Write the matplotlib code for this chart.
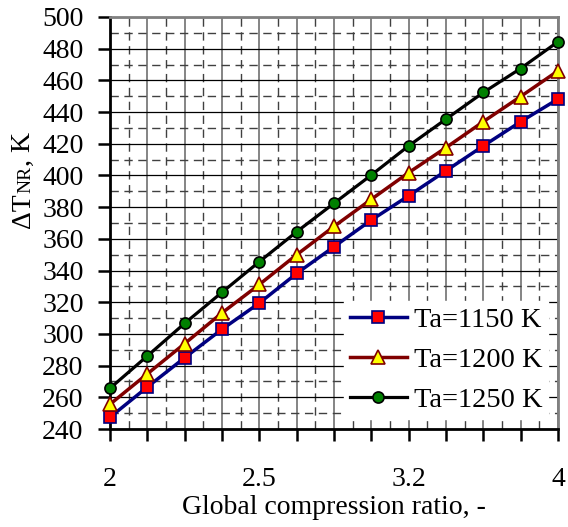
import numpy as np
import matplotlib
matplotlib.use('Agg')
import matplotlib.pyplot as plt
from matplotlib.ticker import FixedLocator, FixedFormatter, MultipleLocator

plt.rcParams['font.family'] = ['Liberation Serif', 'DejaVu Serif']

# global compression ratio (geometric steps from 2 to 4)
ratio = [2.0, 2.119, 2.245, 2.378, 2.520, 2.670, 2.828, 2.997, 3.175, 3.364, 3.564, 3.775, 4.0]
ratio_labels = ['2', '', '', '', '2.5', '', '', '', '3.2', '', '', '', '4']

dT_1150 = [247.4, 266.5, 285.0, 302.9, 319.5, 338.2, 355.0, 371.9, 387.2, 403.0, 418.7, 433.9, 448.2]
dT_1200 = [255.6, 274.8, 293.9, 313.2, 331.2, 350.0, 367.8, 385.0, 401.8, 417.6, 434.0, 449.8, 466.0]
dT_1250 = [265.7, 286.1, 306.7, 326.2, 345.6, 364.5, 382.4, 400.3, 418.7, 435.6, 452.4, 467.5, 484.4]

fig = plt.figure(figsize=(5.68, 5.27), dpi=100)
ax = fig.add_axes([110 / 568, 1 - 429 / 527, 448 / 568, 412 / 527])

ax.plot(ratio, dT_1150, color='#000080', lw=2.5, marker='s', ms=8,
        mfc='#ff0000', mec='#000080', mew=1.2, label='Ta=1150 K', zorder=5, clip_on=False)
ax.plot(ratio, dT_1200, color='#800000', lw=2.5, marker='^', ms=9.5,
        mfc='#ffff00', mec='#800000', mew=1.2, label='Ta=1200 K', zorder=5, clip_on=False)
ax.plot(ratio, dT_1250, color='black', lw=2.3, marker='o', ms=8,
        mfc='#008000', mec='black', mew=1.2, label='Ta=1250 K', zorder=5, clip_on=False)

ax.set_xscale('log')
ax.set_xlim(2.0, 4.0)
ax.set_ylim(240, 500)

# one grid line per point, dashed lines halfway between
mids = [np.sqrt(a * b) for a, b in zip(ratio[:-1], ratio[1:])]
ax.xaxis.set_major_locator(FixedLocator(ratio))
ax.xaxis.set_major_formatter(FixedFormatter(ratio_labels))
ax.xaxis.set_minor_locator(FixedLocator(mids))
ax.xaxis.set_minor_formatter(FixedFormatter([''] * len(mids)))
ax.yaxis.set_major_locator(MultipleLocator(20))
ax.yaxis.set_minor_locator(MultipleLocator(10))

ax.grid(which='major', axis='x', color='#707070', lw=1.2, ls='-')
ax.grid(which='major', axis='y', color='black', lw=0.9, ls='-')
ax.grid(which='minor', color='#404040', lw=1.0, ls=(0, (6, 4)))
ax.set_axisbelow(True)

ax.tick_params(which='major', direction='out', length=8.5, width=1.8, labelsize=20, color='black')
ax.tick_params(axis='x', which='major', pad=19)
ax.tick_params(axis='y', which='major', pad=10.5)
ax.tick_params(which='minor', length=0)

for side in ['left', 'bottom']:
    ax.spines[side].set_linewidth(2)
    ax.spines[side].set_color('black')
for side in ['top', 'right']:
    ax.spines[side].set_linewidth(2)
    ax.spines[side].set_color('#808080')

ax.set_xlabel('Global compression ratio, -', fontsize=20, labelpad=2)

# y label with small-caps "NR" on the same baseline
xb = 30 / 568
t1 = fig.text(xb, 1 - 228 / 527, '\u0394T', rotation=90, rotation_mode='anchor',
              ha='left', va='baseline', fontsize=20)
t2 = ax.annotate('NR', xy=(xb, 1), xycoords=('figure fraction', t1), rotation=90,
                 rotation_mode='anchor', ha='left', va='baseline', fontsize=14,
                 annotation_clip=False)
ax.annotate(', K', xy=(xb, 1), xycoords=('figure fraction', t2), rotation=90,
            rotation_mode='anchor', ha='left', va='baseline', fontsize=20,
            annotation_clip=False)

leg = ax.legend(loc='lower right', fontsize=20.5, frameon=True, fancybox=False,
                handlelength=2.0, handletextpad=0.25, borderaxespad=0.35,
                labelspacing=0.5, borderpad=0.2)
leg.get_frame().set_edgecolor('white')
leg.get_frame().set_facecolor('white')
leg.get_frame().set_alpha(1)
leg.set_zorder(10)

fig.savefig('out.png', dpi=100)
